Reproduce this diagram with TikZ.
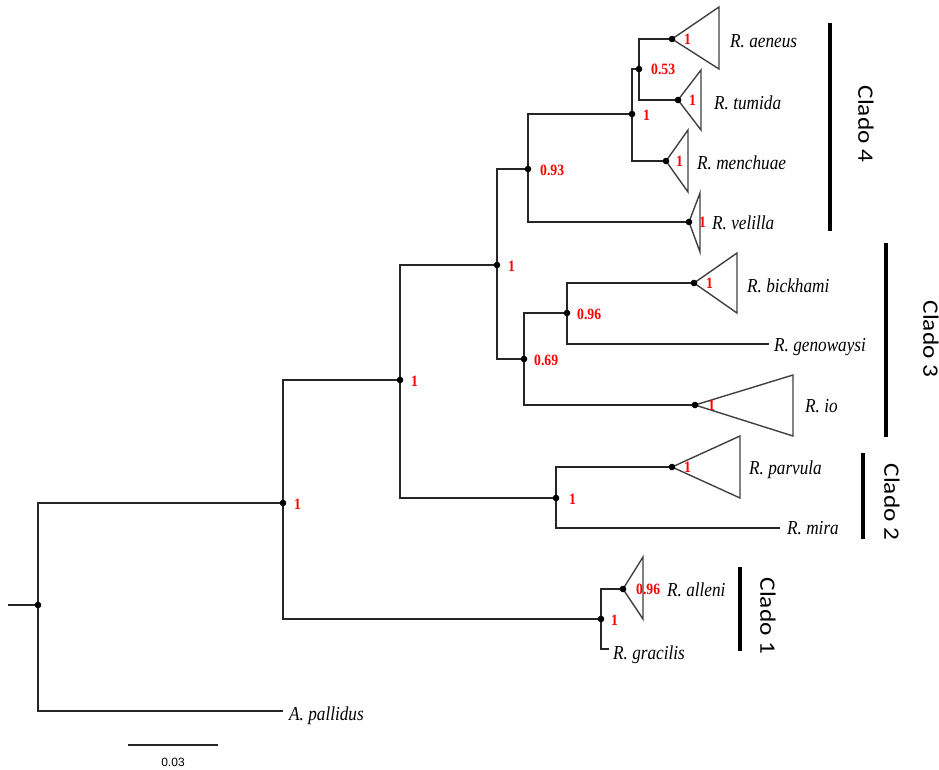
\documentclass[tikz,border=0pt]{standalone}
\usepackage{fontspec}
\usepackage{graphicx}
\setmainfont{Liberation Serif}
\newfontfamily\cladofont{Carlito}
\newfontfamily\barfont{Liberation Sans}
\newcommand{\vstr}[1]{\scalebox{1}[1.15]{#1}}
\newcommand{\hstr}[1]{\scalebox{1.15}[1]{#1}}
\begin{document}
\begin{tikzpicture}[x=1pt,y=-1pt,
  branch/.style={line width=1.4pt, draw=black!85, line cap=rect},
  tri/.style={line width=1.4pt, draw=black!75, line join=miter},
  supp/.style={text=red, font=\fontsize{13.7}{14}\selectfont\bfseries, anchor=west, inner sep=0pt},
  taxon/.style={font=\fontsize{17.2}{18}\selectfont\itshape, anchor=base west, inner sep=0pt},
  clade/.style={font=\cladofont\fontsize{22}{24}\selectfont, rotate=-90, inner sep=0pt},
  cbar/.style={line width=3.8pt, draw=black},
]
\useasboundingbox (0,0) rectangle (939,769);

% internal nodes
\coordinate (stub) at (9,605);
\coordinate (root) at (38,605);
\coordinate (nA) at (283,503);
\coordinate (nB) at (400,380);
\coordinate (nC) at (497,265);
\coordinate (nD) at (528,169);
\coordinate (nE) at (632,114);
\coordinate (nF) at (639,69);
\coordinate (nG) at (524,359);
\coordinate (nH) at (567,313);
\coordinate (nI) at (556,498);
\coordinate (nJ) at (601,619);

% tips
\coordinate (aeneus) at (672,39);
\coordinate (tumida) at (678,100);
\coordinate (menchuae) at (666,161);
\coordinate (velilla) at (689,222);
\coordinate (bickhami) at (694,283);
\coordinate (genowaysi) at (768,344);
\coordinate (io) at (695,405);
\coordinate (parvula) at (672,467);
\coordinate (mira) at (779,528);
\coordinate (alleni) at (623,589);
\coordinate (gracilis) at (608,649);
\coordinate (pallidus) at (282,711);

% branches
\draw[branch] (stub) -- (root);
\draw[branch] (root) |- (nA);
\draw[branch] (root) |- (pallidus);
\draw[branch] (nA) |- (nB);
\draw[branch] (nA) |- (nJ);
\draw[branch] (nB) |- (nC);
\draw[branch] (nB) |- (nI);
\draw[branch] (nC) |- (nD);
\draw[branch] (nC) |- (nG);
\draw[branch] (nD) |- (nE);
\draw[branch] (nD) |- (velilla);
\draw[branch] (nE) |- (nF);
\draw[branch] (nE) |- (menchuae);
\draw[branch] (nF) |- (aeneus);
\draw[branch] (nF) |- (tumida);
\draw[branch] (nG) |- (nH);
\draw[branch] (nG) |- (io);
\draw[branch] (nH) |- (bickhami);
\draw[branch] (nH) |- (genowaysi);
\draw[branch] (nI) |- (parvula);
\draw[branch] (nI) |- (mira);
\draw[branch] (nJ) |- (alleni);
\draw[branch] (nJ) |- (gracilis);

% collapsed clades
\draw[tri] (aeneus) -- ++(47,-32) -- ++(0,62) -- cycle;
\draw[tri] (tumida) -- ++(23,-30) -- ++(0,60) -- cycle;
\draw[tri] (menchuae) -- ++(22,-31) -- ++(0,62) -- cycle;
\draw[tri] (velilla) -- ++(11,-29) -- ++(0,59) -- cycle;
\draw[tri] (bickhami) -- ++(43,-30) -- ++(0,60) -- cycle;
\draw[tri] (io) -- ++(98,-30) -- ++(0,61) -- cycle;
\draw[tri] (parvula) -- ++(68,-31) -- ++(0,62) -- cycle;
\draw[tri] (alleni) -- ++(20,-32) -- ++(0,62) -- cycle;

% dots
\foreach \p in {root,nA,nB,nC,nD,nE,nF,nG,nH,nI,nJ,aeneus,tumida,menchuae,velilla,bickhami,io,parvula,alleni}
  \fill (\p) circle (3.3pt);

% support values
\node[supp] (sA) at ([xshift=11pt,yshift=-1pt]nA) {\vstr{1}};
\node[supp] (sB) at ([xshift=11pt,yshift=-1pt]nB) {\vstr{1}};
\node[supp] (sC) at ([xshift=11pt,yshift=-1pt]nC) {\vstr{1}};
\node[supp] (sD) at ([xshift=12pt,yshift=-1pt]nD) {\vstr{0.93}};
\node[supp] (sE) at ([xshift=11pt,yshift=-1pt]nE) {\vstr{1}};
\node[supp] (sF) at ([xshift=12pt,yshift=0pt]nF) {\vstr{0.53}};
\node[supp] (sG) at ([xshift=10pt,yshift=-1pt]nG) {\vstr{0.69}};
\node[supp] (sH) at ([xshift=10pt,yshift=-1pt]nH) {\vstr{0.96}};
\node[supp] (sI) at ([xshift=13pt,yshift=-1pt]nI) {\vstr{1}};
\node[supp] (sJ) at ([xshift=10pt,yshift=-1pt]nJ) {\vstr{1}};
\node[supp] (tA) at ([xshift=12pt]aeneus) {\vstr{1}};
\node[supp] (tT) at ([xshift=11pt]tumida) {\vstr{1}};
\node[supp] (tM) at ([xshift=10pt]menchuae) {\vstr{1}};
\node[supp] (tV) at ([xshift=10pt]velilla) {\vstr{1}};
\node[supp] (tB) at ([xshift=12pt]bickhami) {\vstr{1}};
\node[supp] (tI) at ([xshift=13pt]io) {\vstr{1}};
\node[supp] (tP) at ([xshift=12pt]parvula) {\vstr{1}};
\node[supp] (tL) at ([xshift=13pt]alleni) {\vstr{0.96}};

% taxon names
\node[taxon] (laeneus) at (730,47) {\vstr{R. aeneus}};
\node[taxon] (ltumida) at (714,109) {\vstr{R. tumida}};
\node[taxon] (lmenchuae) at (697,169) {\vstr{R. menchuae}};
\node[taxon] (lvelilla) at (712,229) {\vstr{R. velilla}};
\node[taxon] (lbickhami) at (747,292) {\vstr{R. bickhami}};
\node[taxon] (lgenowaysi) at (774,351) {\vstr{R. genowaysi}};
\node[taxon] (lio) at (805,412) {\vstr{R. io}};
\node[taxon] (lparvula) at (749,474) {\vstr{R. parvula}};
\node[taxon] (lmira) at (787,534) {\vstr{R. mira}};
\node[taxon] (lalleni) at (667,596) {\vstr{R. alleni}};
\node[taxon] (lgracilis) at (613,659) {\vstr{R. gracilis}};
\node[taxon] (lpallidus) at (289,720) {\vstr{A. pallidus}};

% clade bars and labels
\coordinate (c4a) at (830,23); \coordinate (c4b) at (830,231);
\coordinate (c3a) at (886,243); \coordinate (c3b) at (886,437);
\coordinate (c2a) at (863,453); \coordinate (c2b) at (863,539);
\coordinate (c1a) at (740,567); \coordinate (c1b) at (740,651);
\draw[cbar] (c4a) -- (c4b);
\draw[cbar] (c3a) -- (c3b);
\draw[cbar] (c2a) -- (c2b);
\draw[cbar] (c1a) -- (c1b);
\node[clade] (k4) at (866,124) {\hstr{Clado 4}};
\node[clade] (k3) at (931,339) {\hstr{Clado 3}};
\node[clade] (k2) at (892,502) {\hstr{Clado 2}};
\node[clade] (k1) at (768,616) {\hstr{Clado 1}};

% scale bar
\coordinate (sb1) at (128,745);
\coordinate (sb2) at (218,745);
\draw[branch, line cap=butt] (sb1) -- (sb2);
\node[font=\barfont\fontsize{12}{13}\selectfont, inner sep=0pt] (sbl) at (173,762) {0.03};
\end{tikzpicture}
\end{document}
